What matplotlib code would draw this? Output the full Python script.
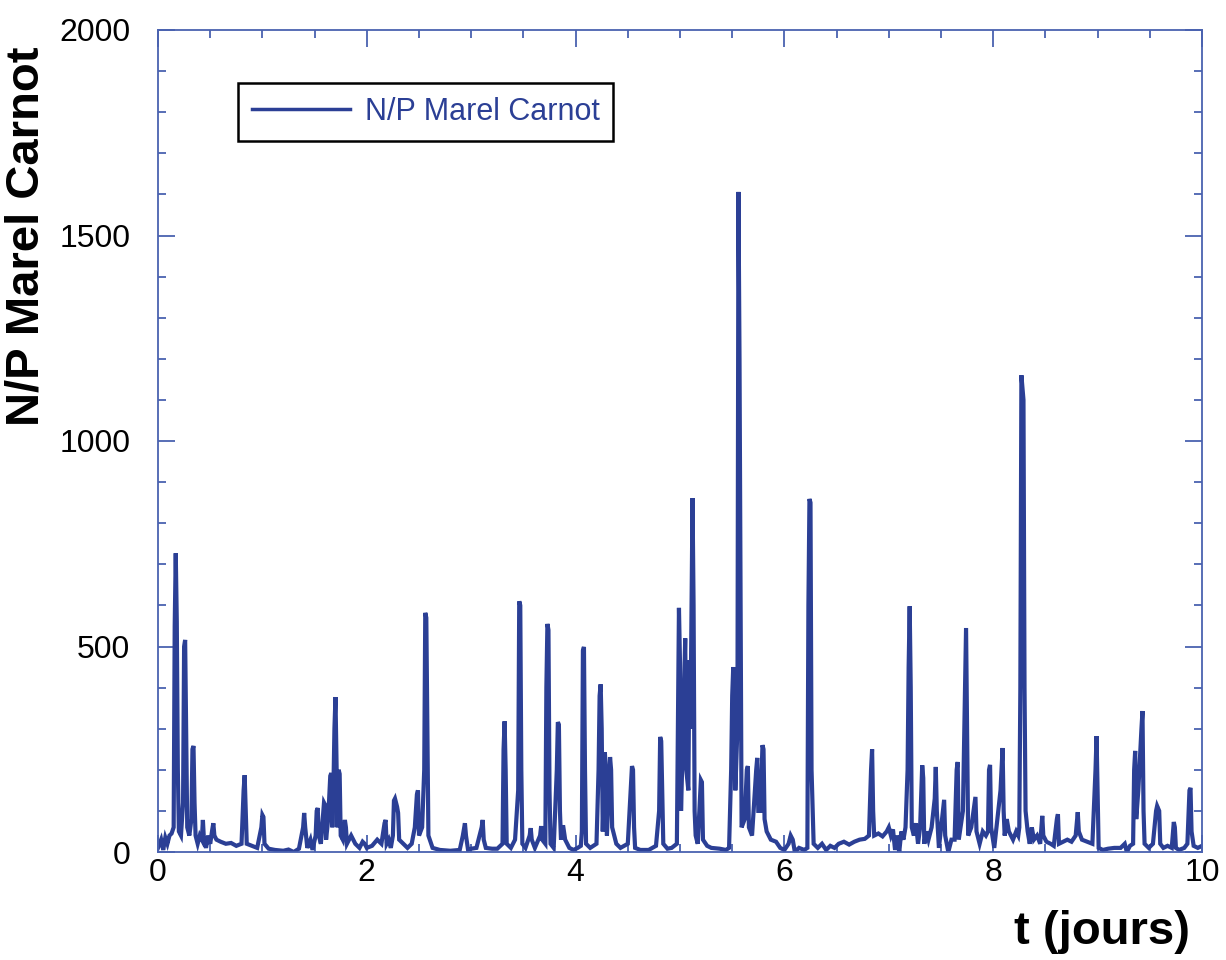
import matplotlib
matplotlib.use("Agg")
import matplotlib.pyplot as plt
from matplotlib.ticker import MultipleLocator
from matplotlib import font_manager

# ---- data (time in days, N/P ratio) ----
t_days = [
    0.00, 0.03, 0.05, 0.07, 0.09, 0.11, 0.13, 0.15, 0.16, 0.17, 0.18, 0.19, 0.20, 0.22, 0.24, 0.25,
    0.26, 0.27, 0.28, 0.30, 0.32, 0.33, 0.34, 0.35, 0.36, 0.38, 0.40, 0.42, 0.43, 0.44, 0.46, 0.48,
    0.50, 0.52, 0.53, 0.54, 0.56, 0.60, 0.65, 0.70, 0.75, 0.80, 0.82, 0.83, 0.84, 0.85, 0.90, 0.95,
    0.99, 1.00, 1.01, 1.02, 1.06, 1.12, 1.20, 1.25, 1.30, 1.35, 1.39, 1.40, 1.41, 1.43, 1.46, 1.48,
    1.51, 1.52, 1.53, 1.54, 1.56, 1.59, 1.60, 1.61, 1.63, 1.65, 1.66, 1.67, 1.68, 1.69, 1.70, 1.71,
    1.72, 1.73, 1.74, 1.75, 1.77, 1.79, 1.80, 1.81, 1.85, 1.89, 1.93, 1.96, 1.98, 2.00, 2.05, 2.10,
    2.14, 2.17, 2.18, 2.19, 2.21, 2.23, 2.25, 2.26, 2.27, 2.29, 2.30, 2.31, 2.35, 2.39, 2.43, 2.46,
    2.48, 2.49, 2.50, 2.53, 2.55, 2.56, 2.57, 2.58, 2.59, 2.63, 2.70, 2.80, 2.89, 2.92, 2.94, 2.95,
    2.97, 3.00, 3.05, 3.10, 3.11, 3.12, 3.14, 3.20, 3.25, 3.30, 3.31, 3.32, 3.33, 3.34, 3.38, 3.42,
    3.45, 3.46, 3.47, 3.48, 3.49, 3.52, 3.56, 3.57, 3.58, 3.61, 3.66, 3.67, 3.68, 3.71, 3.72, 3.73,
    3.74, 3.75, 3.76, 3.79, 3.82, 3.83, 3.84, 3.85, 3.86, 3.88, 3.90, 3.94, 3.98, 4.02, 4.05, 4.06,
    4.07, 4.08, 4.09, 4.10, 4.14, 4.20, 4.22, 4.23, 4.24, 4.25, 4.26, 4.28, 4.29, 4.30, 4.33, 4.34,
    4.35, 4.37, 4.39, 4.43, 4.50, 4.54, 4.55, 4.56, 4.57, 4.62, 4.70, 4.77, 4.80, 4.81, 4.82, 4.83,
    4.84, 4.88, 4.92, 4.97, 4.99, 5.00, 5.01, 5.03, 5.05, 5.06, 5.08, 5.09, 5.10, 5.12, 5.13, 5.14,
    5.15, 5.17, 5.20, 5.21, 5.22, 5.26, 5.30, 5.38, 5.44, 5.47, 5.49, 5.50, 5.51, 5.52, 5.53, 5.55,
    5.56, 5.57, 5.58, 5.59, 5.62, 5.64, 5.65, 5.66, 5.69, 5.73, 5.74, 5.75, 5.77, 5.79, 5.80, 5.81,
    5.83, 5.87, 5.92, 5.96, 6.00, 6.04, 6.06, 6.08, 6.10, 6.14, 6.19, 6.22, 6.23, 6.24, 6.25, 6.26,
    6.28, 6.32, 6.36, 6.40, 6.44, 6.48, 6.52, 6.57, 6.62, 6.67, 6.72, 6.77, 6.81, 6.83, 6.84, 6.85,
    6.86, 6.90, 6.94, 6.98, 7.00, 7.02, 7.04, 7.06, 7.08, 7.10, 7.12, 7.14, 7.16, 7.18, 7.19, 7.20,
    7.21, 7.22, 7.24, 7.26, 7.28, 7.30, 7.32, 7.33, 7.34, 7.36, 7.38, 7.41, 7.44, 7.45, 7.46, 7.48,
    7.53, 7.54, 7.57, 7.60, 7.63, 7.65, 7.66, 7.67, 7.71, 7.73, 7.74, 7.75, 7.76, 7.79, 7.83, 7.84,
    7.87, 7.90, 7.93, 7.95, 7.96, 7.97, 7.98, 8.01, 8.07, 8.09, 8.10, 8.11, 8.13, 8.15, 8.19, 8.22,
    8.24, 8.25, 8.26, 8.27, 8.29, 8.30, 8.31, 8.33, 8.35, 8.37, 8.39, 8.42, 8.45, 8.47, 8.48, 8.51,
    8.55, 8.58, 8.61, 8.62, 8.63, 8.67, 8.71, 8.75, 8.79, 8.81, 8.82, 8.85, 8.90, 8.95, 8.98, 8.99,
    9.00, 9.01, 9.05, 9.10, 9.16, 9.22, 9.26, 9.28, 9.31, 9.34, 9.35, 9.36, 9.37, 9.39, 9.42, 9.43,
    9.44, 9.45, 9.49, 9.53, 9.56, 9.57, 9.59, 9.60, 9.63, 9.67, 9.71, 9.73, 9.74, 9.75, 9.78, 9.83,
    9.86, 9.88, 9.89, 9.90, 9.92, 9.96, 10.00,
]

np_ratio = [
    10, 30, 5, 35, 20, 40, 45, 60, 550, 727, 560, 200, 50, 40, 120, 500,
    516, 280, 60, 40, 80, 250, 258, 120, 40, 20, 40, 30, 78, 30, 10, 40,
    20, 55, 70, 40, 30, 25, 20, 22, 15, 20, 150, 187, 100, 20, 15, 10,
    60, 90, 85, 20, 8, 5, 3, 6, 0, 8, 60, 95, 60, 10, 30, 5,
    40, 100, 107, 40, 20, 120, 115, 30, 80, 185, 192, 60, 150, 300, 377, 220,
    60, 200, 190, 40, 30, 78, 60, 20, 40, 20, 10, 25, 20, 10, 15, 30,
    20, 70, 78, 20, 30, 10, 40, 125, 130, 110, 95, 30, 20, 10, 20, 60,
    140, 150, 40, 60, 200, 582, 570, 300, 40, 10, 5, 3, 5, 40, 70, 40,
    5, 8, 10, 60, 78, 30, 10, 8, 8, 20, 250, 318, 200, 20, 10, 30,
    150, 610, 600, 200, 20, 10, 40, 58, 30, 10, 40, 63, 30, 20, 400, 555,
    540, 150, 20, 10, 200, 316, 310, 100, 30, 65, 30, 10, 5, 10, 15, 50,
    490, 499, 200, 20, 10, 20, 200, 380, 408, 300, 50, 243, 200, 40, 231, 200,
    60, 40, 20, 10, 20, 209, 200, 60, 10, 5, 5, 15, 100, 280, 270, 150,
    20, 8, 10, 20, 594, 460, 100, 300, 520, 200, 150, 467, 300, 861, 600, 100,
    40, 20, 175, 170, 30, 15, 10, 8, 5, 10, 200, 380, 450, 380, 150, 300,
    1606, 1200, 600, 60, 80, 200, 209, 60, 40, 200, 229, 100, 100, 260, 250, 80,
    50, 30, 25, 10, 5, 20, 40, 30, 0, 10, 5, 10, 600, 859, 850, 200,
    20, 10, 20, 5, 15, 10, 20, 25, 18, 25, 30, 32, 40, 200, 250, 100,
    40, 45, 38, 50, 60, 40, 55, 5, 40, 0, 50, 30, 60, 200, 450, 598,
    400, 60, 40, 70, 20, 60, 211, 180, 20, 50, 30, 60, 130, 207, 100, 10,
    127, 40, 0, 30, 30, 200, 219, 30, 100, 400, 545, 300, 40, 60, 134, 50,
    20, 50, 40, 50, 200, 212, 60, 10, 150, 253, 100, 40, 80, 50, 30, 50,
    40, 60, 400, 1160, 1100, 400, 100, 50, 20, 60, 30, 40, 20, 88, 40, 25,
    20, 15, 80, 92, 20, 25, 30, 25, 40, 97, 50, 30, 25, 20, 200, 282,
    150, 10, 5, 8, 10, 10, 20, 0, 15, 20, 200, 246, 80, 150, 300, 343,
    100, 20, 10, 20, 100, 112, 100, 20, 10, 15, 10, 73, 60, 10, 5, 10,
    20, 150, 156, 50, 15, 10, 15,
]

series_label = "N/P Marel Carnot"
y_label = "N/P Marel Carnot"
x_label = "t (jours)"

# ---- styling ----
line_color = "#2b3f95"
spine_color = "#4a62b0"

names = {f.name for f in font_manager.fontManager.ttflist}
base_font = "Liberation Sans" if "Liberation Sans" in names else "DejaVu Sans"
plt.rcParams["font.family"] = [base_font, "DejaVu Sans"]

fig = plt.figure(figsize=(12.26, 9.60), dpi=100)
ax = fig.add_axes([158 / 1226, 1 - 852 / 960, (1202 - 158) / 1226, (852 - 30) / 960])

ax.plot(t_days, np_ratio, color=line_color, lw=3.0, label=series_label,
        solid_joinstyle="miter")

ax.set_xlim(0, 10)
ax.set_ylim(0, 2000)
ax.xaxis.set_major_locator(MultipleLocator(2))
ax.xaxis.set_minor_locator(MultipleLocator(0.5))
ax.yaxis.set_major_locator(MultipleLocator(500))
ax.yaxis.set_minor_locator(MultipleLocator(100))

for s in ax.spines.values():
    s.set_color(spine_color)
    s.set_linewidth(1.3)

ax.tick_params(which="both", direction="in", top=True, right=True,
               color=spine_color, labelsize=23, labelcolor="black")
ax.tick_params(which="major", length=12, width=1.3)
ax.tick_params(which="minor", length=6, width=1.3)
ax.tick_params(axis="y", which="both", pad=20)
ax.tick_params(axis="x", which="both", pad=4)

leg = ax.legend(loc="upper left", bbox_to_anchor=(238 / 1226, 1 - 83 / 960),
                bbox_transform=fig.transFigure, borderaxespad=0,
                fancybox=False, framealpha=1, edgecolor="black",
                fontsize=22, labelcolor=line_color, handlelength=3.2,
                handletextpad=0.5, borderpad=0.45)
leg.get_frame().set_linewidth(1.8)
for h in leg.get_lines():
    h.set_linewidth(2.5)

fig.text(27 / 1226, 1 - 236 / 960, y_label, rotation=90, ha="center", va="center",
         fontsize=34, fontweight="bold")
fig.text(1190 / 1226, 1 - 932 / 960, x_label, ha="right", va="center",
         fontsize=34, fontweight="bold")

fig.savefig("out.png", dpi=100)
